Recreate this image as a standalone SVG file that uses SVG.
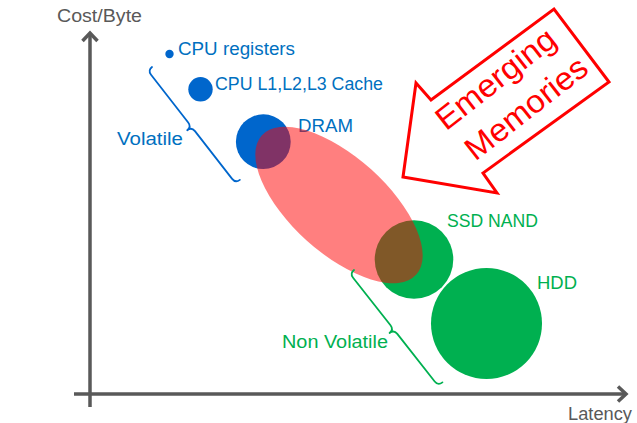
<svg xmlns="http://www.w3.org/2000/svg" width="637" height="423" viewBox="0 0 637 423">
<style>
text{font-family:"Liberation Sans",Arial,sans-serif;font-size:17.5px}
.ax{stroke:#595959;stroke-width:3.5;fill:none}
.axt{fill:#595959}
.bt{fill:#0070C0}
.gt{fill:#00B050}
.bc{fill:#0066CC}
.gc{fill:#00B050}
.br{fill:none;stroke-width:1.8;stroke-linejoin:round;stroke-linecap:round}
.em{fill:#FF0000;font-size:32px}
</style>
<defs>
<marker id="chev" markerUnits="userSpaceOnUse" markerWidth="20" markerHeight="20" refX="0" refY="0" viewBox="-10 -10 20 20" orient="auto" overflow="visible">
<path d="M-8,-7.5 L0,0 L-8,7.5" fill="none" stroke="#595959" stroke-width="3.5"/>
</marker>
<path id="brace" d="M0,0 Q0,5.5 5.5,5.5 L66,5.5 Q71.5,5.5 71.5,11 Q71.5,5.5 77,5.5 L137.5,5.5 Q143,5.5 143,0"/>
</defs>
<g id="axes">
<line class="ax" x1="90" y1="407" x2="90" y2="33" marker-end="url(#chev)"/>
<line class="ax" x1="74" y1="394" x2="626" y2="394" marker-end="url(#chev)"/>
<text class="axt" x="57" y="22" textLength="85" lengthAdjust="spacingAndGlyphs">Cost/Byte</text>
<text class="axt" x="568" y="420" textLength="64" lengthAdjust="spacingAndGlyphs">Latency</text>
</g>
<g id="node-registers">
<circle class="bc" cx="169.5" cy="54" r="4.2"/>
<text class="bt" x="178" y="55" textLength="117" lengthAdjust="spacingAndGlyphs">CPU registers</text>
</g>
<g id="node-cache">
<circle class="bc" cx="200.5" cy="89.3" r="12.2"/>
<text class="bt" x="215" y="90" textLength="168" lengthAdjust="spacingAndGlyphs">CPU L1,L2,L3 Cache</text>
</g>
<g id="node-dram">
<circle class="bc" cx="263.3" cy="141.7" r="27.4"/>
<text class="bt" x="298" y="132" textLength="55" lengthAdjust="spacingAndGlyphs">DRAM</text>
</g>
<g id="node-ssd">
<circle class="gc" cx="414" cy="259.5" r="39.3"/>
<text class="gt" x="447" y="227" textLength="91" lengthAdjust="spacingAndGlyphs">SSD NAND</text>
</g>
<g id="node-hdd">
<circle class="gc" cx="486.5" cy="323.5" r="55.5"/>
<text class="gt" x="537" y="289" textLength="40" lengthAdjust="spacingAndGlyphs">HDD</text>
</g>
<g id="node-emerging-region">
<ellipse cx="339" cy="205" rx="104" ry="48" transform="rotate(42 339 205)" fill="#FF0000" fill-opacity="0.5"/>
</g>
<g id="connectors">
<g id="brace-volatile">
<use href="#brace" class="br" stroke="#0066CC" transform="translate(152 67) rotate(52.1)"/>
<text class="bt" x="117" y="145" textLength="66" lengthAdjust="spacingAndGlyphs">Volatile</text>
</g>
<g id="brace-nonvolatile">
<use href="#brace" class="br" stroke="#00B050" transform="translate(354 270) rotate(51.8)"/>
<text class="gt" x="282" y="348" textLength="106" lengthAdjust="spacingAndGlyphs">Non Volatile</text>
</g>
</g>
<g id="node-emerging-arrow">
<polygon points="403,177 416,83 431,100 554,9 609,82 483,173 497,193" fill="#FFFFFF" stroke="#FF0000" stroke-width="3" stroke-linejoin="miter"/>
<g transform="translate(512 95) rotate(-38)">
<text class="em" x="-3" y="-12" text-anchor="middle" textLength="143" lengthAdjust="spacingAndGlyphs">Emerging</text>
<text class="em" x="3" y="30" text-anchor="middle" textLength="146" lengthAdjust="spacingAndGlyphs">Memories</text>
</g>
</g>
</svg>
